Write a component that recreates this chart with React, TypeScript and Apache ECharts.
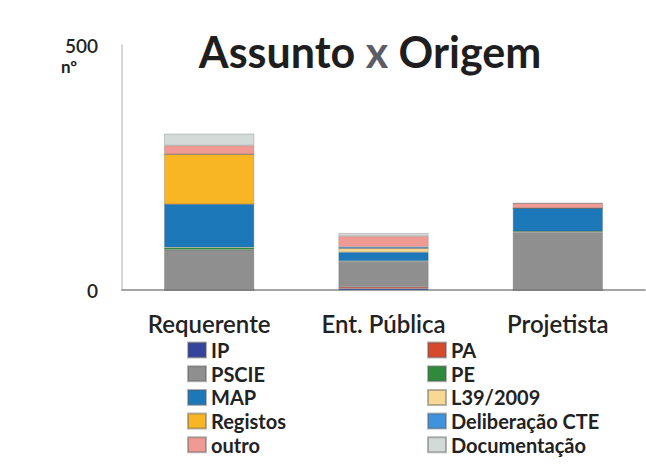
import React, { useEffect, useRef } from "react";
import * as echarts from "echarts";

const categories = ["Requerente", "Ent. Pública", "Projetista"];
const seriesNames = ["IP", "PA", "PSCIE", "PE", "MAP", "L39/2009", "Registos", "Deliberação CTE", "outro", "Documentação"];
const ipValues = [0, 3, 0];
const paValues = [0, 3, 0];
const pscieValues = [82, 51, 118];
const peValues = [5, 2, 2];
const mapValues = [88, 18, 47];
const l39Values = [0, 8, 0];
const registosValues = [102, 0, 0];
const deliberacaoValues = [0, 3, 0];
const outroValues = [18, 22, 10];
const documentacaoValues = [24, 6, 0];
const yTicks = [0, 500];

const seriesValues = [ipValues, paValues, pscieValues, peValues, mapValues, l39Values, registosValues, deliberacaoValues, outroValues, documentacaoValues];
const colors = ["#34449a", "#d8482c", "#8f8f8f", "#2f8a3c", "#1c78b8", "#f7d993", "#f8b625", "#3f92dc", "#ef9b94", "#d3dad8"];

const FONT = "Lato";

export default function App() {
  const ref = useRef<HTMLDivElement>(null);
  useEffect(() => {
    const chart = echarts.init(ref.current!, null, { renderer: "svg" });
    const legendText = { fontFamily: FONT, fontSize: 20, fontWeight: "bold", color: "#222", lineHeight: 20 };
    chart.setOption({
      animation: false,
      backgroundColor: "#ffffff",
      color: colors,
      title: {
        text: "Assunto {x|x} Origem",
        left: 365,
        top: 25,
        textAlign: "center",
        textStyle: {
          fontFamily: FONT,
          fontSize: 43,
          fontWeight: "bold",
          color: "#1e1e1e",
          rich: { x: { fontFamily: FONT, fontSize: 43, fontWeight: "bold", color: "#5c5c66" } },
        },
      },
      grid: { left: 122, right: 1, top: 45, bottom: 180, containLabel: false },
      xAxis: {
        type: "category",
        data: categories,
        axisLine: { show: true, lineStyle: { color: "#888", width: 1.5 } },
        axisTick: { show: false },
        axisLabel: { fontFamily: FONT, fontSize: 24, fontWeight: 600, color: "#222", margin: 21 },
      },
      yAxis: {
        type: "value",
        min: yTicks[0],
        max: yTicks[1],
        interval: yTicks[1] - yTicks[0],
        axisLine: { show: true, lineStyle: { color: "#c8c8c8", width: 1.5 } },
        axisTick: { show: false },
        splitLine: { show: false },
        axisLabel: { fontFamily: FONT, fontSize: 19, fontWeight: 600, color: "#222", margin: 24, lineHeight: 16 },
      },
      legend: [
        {
          orient: "vertical",
          left: 182,
          top: 335,
          itemWidth: 18,
          itemHeight: 15,
          itemGap: 3.7,
          icon: "rect",
          data: [seriesNames[0], seriesNames[2], seriesNames[4], seriesNames[6], seriesNames[8]],
          textStyle: legendText,
        },
        {
          orient: "vertical",
          left: 422,
          top: 335,
          itemWidth: 18,
          itemHeight: 15,
          itemGap: 3.7,
          icon: "rect",
          data: [seriesNames[1], seriesNames[3], seriesNames[5], seriesNames[7], seriesNames[9]],
          textStyle: legendText,
        },
      ],
      graphic: [
        {
          type: "text",
          left: 61,
          top: 58,
          style: { text: "nº", fontFamily: FONT, fontSize: 17, fontWeight: "bold", fill: "#222" },
        },
      ],
      series: seriesNames.map((name, i) => ({
        name,
        type: "bar",
        stack: "total",
        data: seriesValues[i],
        barWidth: 90,
        itemStyle: { color: colors[i], borderColor: "rgba(90,90,90,0.45)", borderWidth: 0.6 },
      })),
    });
    return () => chart.dispose();
  }, []);
  return <div ref={ref} style={{ width: 646, height: 470, position: "absolute", left: 0, top: 0 }} />;
}
